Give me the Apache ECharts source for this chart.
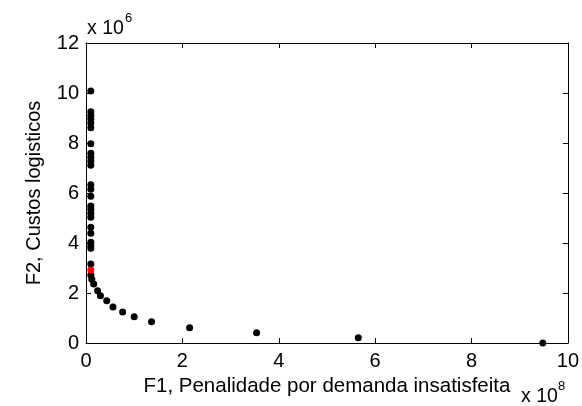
<!DOCTYPE html>
<html>
<head>
<meta charset="utf-8">
<script src="https://cdn.jsdelivr.net/npm/echarts@6/dist/echarts.min.js"></script>
<style>body{margin:0;background:#fff}</style>
</head>
<body>
<div id="main" style="width:582px;height:406px;"></div>
<script>
// F1 in units of 1e8, F2 in units of 1e6
var f1 = [0.1, 0.1, 0.1, 0.1, 0.1, 0.1, 0.1, 0.1, 0.1, 0.1, 0.1, 0.1,
          0.1, 0.1, 0.1, 0.1, 0.1, 0.1, 0.1, 0.1, 0.1, 0.1, 0.1, 0.1,
          0.1, 0.12, 0.16, 0.24, 0.30, 0.43, 0.56, 0.76, 1.0, 1.36, 2.15, 3.54, 5.65, 9.48];
var f2 = [10.08, 9.25, 9.1, 8.96, 8.8, 8.61, 7.97, 7.59, 7.43, 7.27, 7.11, 6.33,
          6.15, 5.87, 5.48, 5.35, 5.19, 5.03, 4.63, 4.39, 4.03, 3.89, 3.79, 3.16,
          2.72, 2.55, 2.36, 2.09, 1.89, 1.69, 1.44, 1.24, 1.05, 0.85, 0.61, 0.41, 0.21, 0.0];
// chosen solution (red)
var chosenF1 = [0.1];
var chosenF2 = [2.92];

var pts = f1.map(function (x, i) { return [x, f2[i]]; });
var red = chosenF1.map(function (x, i) { return [x, chosenF2[i]]; });

var font = 'Liberation Sans, Arial, sans-serif';
var fs = 20;
var myChart = echarts.init(document.getElementById('main'));

function axisBase(extra) {
    var a = {
        min: 0,
        interval: 2,
        axisLine: { show: true, onZero: false, lineStyle: { color: '#000', width: 1 } },
        axisTick: { show: true, inside: true, length: 5, lineStyle: { color: '#000' } },
        splitLine: { show: false },
        axisLabel: { color: '#000', fontSize: fs, fontFamily: font }
    };
    for (var k in extra) a[k] = extra[k];
    return a;
}

function txt(s, x, y, size) {
    return {
        type: 'text', x: x, y: y,
        style: { text: s, fontSize: size, fontFamily: font, fill: '#000',
                 textAlign: 'left', textVerticalAlign: 'middle' }
    };
}

var option = {
    animation: false,
    backgroundColor: '#fff',
    grid: { left: 86, right: 11, top: 43, bottom: 63 },
    xAxis: [
        axisBase({ type: 'value', max: 10, position: 'bottom',
            name: 'F1, Penalidade por demanda insatisfeita',
            nameLocation: 'middle', nameGap: 30,
            nameTextStyle: { color: '#000', fontSize: 20.5, fontFamily: font },
            axisLabel: { color: '#000', fontSize: fs, fontFamily: font, margin: 8 } }),
        axisBase({ type: 'value', max: 10, position: 'top', axisLabel: { show: false } })
    ],
    yAxis: [
        axisBase({ type: 'value', max: 12, position: 'left',
            name: 'F2, Custos logisticos',
            nameLocation: 'middle', nameGap: 42,
            nameTextStyle: { color: '#000', fontSize: fs, fontFamily: font },
            axisLabel: { color: '#000', fontSize: fs, fontFamily: font, margin: 7 } }),
        axisBase({ type: 'value', max: 12, position: 'right', axisLabel: { show: false } })
    ],
    graphic: [
        txt('x 10', 87, 29, 19.5),
        txt('6', 125, 18, 13),
        txt('x 10', 521, 397, 19.5),
        txt('8', 558, 386, 13)
    ],
    series: [
        {
            type: 'scatter',
            symbolSize: 7,
            itemStyle: { color: '#000', opacity: 1 },
            data: pts,
            clip: false
        },
        {
            type: 'scatter',
            symbolSize: 7,
            itemStyle: { color: '#ff0000', opacity: 1 },
            data: red,
            clip: false
        }
    ]
};
myChart.setOption(option);
</script>
</body>
</html>
